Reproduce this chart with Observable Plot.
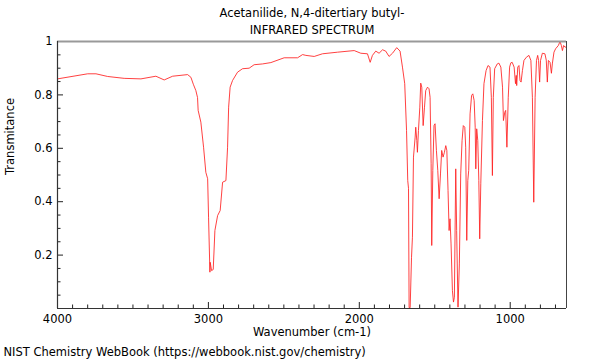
<!DOCTYPE html>
<html>
<head>
<meta charset="utf-8">
<script src="https://cdn.jsdelivr.net/npm/d3@7"></script>
<script src="https://cdn.jsdelivr.net/npm/@observablehq/plot@0.6"></script>
<style>
  body { margin: 0; background: #fff; }
</style>
</head>
<body>
<div id="chart"></div>
<script>
// Spectrum
const wavenumber = [
  4000, 3800, 3745, 3668, 3558, 3447, 3348, 3293, 3237, 3138, 3116, 3100, 3083, 3072, 3068,
  3050, 3032, 3017, 3005, 2999, 2990, 2988, 2979, 2968, 2957, 2939, 2922, 2906, 2884, 2873,
  2866, 2856, 2840, 2807, 2774, 2730, 2697, 2641, 2586, 2498, 2409, 2376, 2354, 2299, 2244,
  2144, 2034, 1990, 1946, 1928, 1913, 1891, 1869, 1846, 1825, 1803, 1780, 1752, 1730, 1714,
  1699, 1687, 1679, 1674, 1670, 1663, 1654, 1648, 1641, 1630, 1626, 1619, 1615, 1608, 1599,
  1593, 1586, 1577, 1568, 1560, 1548, 1538, 1531, 1524, 1520, 1513, 1505, 1498, 1489, 1480,
  1471, 1462, 1454, 1445, 1436, 1427, 1420, 1412, 1405, 1399, 1392, 1383, 1376, 1370, 1361,
  1355, 1346, 1337, 1328, 1319, 1311, 1301, 1295, 1288, 1281, 1275, 1266, 1256, 1248, 1239,
  1232, 1228, 1222, 1215, 1208, 1202, 1195, 1184, 1174, 1160, 1147, 1134, 1125, 1118, 1112,
  1103, 1086, 1075, 1062, 1051, 1045, 1036, 1030, 1022, 1013, 1004, 996, 987, 974, 965,
  960, 957, 950, 942, 935, 928, 919, 909, 893, 876, 863, 853, 844, 835, 826,
  818, 812, 805, 799, 787, 770, 761, 754, 747, 736, 727, 721, 710, 699, 681,
  670, 661, 654, 646, 637, 630
];
const transmittance = [
  0.860, 0.879, 0.879, 0.869, 0.862, 0.860, 0.870, 0.856, 0.870, 0.876, 0.866, 0.840, 0.816, 0.790, 0.742,
  0.698, 0.604, 0.510, 0.486, 0.342, 0.136, 0.173, 0.142, 0.146, 0.292, 0.348, 0.367, 0.473, 0.479, 0.604,
  0.754, 0.829, 0.854, 0.885, 0.898, 0.900, 0.913, 0.916, 0.921, 0.939, 0.939, 0.951, 0.948, 0.944, 0.954,
  0.960, 0.966, 0.956, 0.954, 0.922, 0.948, 0.964, 0.956, 0.969, 0.964, 0.944, 0.956, 0.977, 0.964, 0.904,
  0.842, 0.667, 0.479, 0.450, 0.003, 0.003, 0.192, 0.267, 0.567, 0.642, 0.679, 0.629, 0.585, 0.667, 0.754,
  0.844, 0.829, 0.685, 0.754, 0.816, 0.829, 0.823, 0.791, 0.542, 0.236, 0.517, 0.685, 0.692, 0.592, 0.517,
  0.411, 0.504, 0.592, 0.567, 0.585, 0.610, 0.592, 0.442, 0.292, 0.336, 0.242, 0.067, 0.024, 0.042, 0.523,
  0.292, 0.005, 0.167, 0.504, 0.629, 0.685, 0.679, 0.604, 0.255, 0.479, 0.517, 0.729, 0.798, 0.804, 0.779,
  0.679, 0.523, 0.673, 0.629, 0.479, 0.261, 0.467, 0.704, 0.842, 0.891, 0.910, 0.904, 0.791, 0.498, 0.791,
  0.898, 0.916, 0.919, 0.904, 0.829, 0.704, 0.735, 0.742, 0.604, 0.791, 0.904, 0.920, 0.922, 0.904, 0.842,
  0.873, 0.835, 0.904, 0.910, 0.854, 0.848, 0.891, 0.929, 0.941, 0.948, 0.929, 0.791, 0.398, 0.791, 0.929,
  0.948, 0.929, 0.848, 0.929, 0.956, 0.954, 0.930, 0.848, 0.929, 0.922, 0.881, 0.916, 0.960, 0.973, 0.985,
  1.000, 0.985, 0.966, 0.985, 0.979, 0.979
];

const xMajorTicks = [4000, 3000, 2000, 1000];
const xMinorTicks = [3900, 3800, 3700, 3600, 3500, 3400, 3300, 3200, 3100, 2900, 2800, 2700, 2600, 2500, 2400, 2300, 2200, 2100,
  1900, 1800, 1700, 1600, 1500, 1400, 1300, 1200, 1100, 900, 800, 700];
const yMajorTicks = [0.2, 0.4, 0.6, 0.8, 1];
const yMinorTicks = [0.05, 0.1, 0.15, 0.25, 0.3, 0.35, 0.45, 0.5, 0.55, 0.65, 0.7, 0.75, 0.85, 0.9, 0.95];

const titleLines = ["Acetanilide, N,4-ditertiary butyl-", "INFRARED SPECTRUM"];
const xLabel = "Wavenumber (cm-1)";
const yLabel = "Transmitance";
const caption = "NIST Chemistry WebBook (https://webbook.nist.gov/chemistry)";

const xMin = 4000, xMax = 627;
const data = wavenumber.map((w, i) => ({w, t: transmittance[i]}));

const noLabel = () => "";

const chart = Plot.plot({
  width: 600,
  height: 360,
  marginLeft: 57,
  marginRight: 34,
  marginTop: 41,
  marginBottom: 52,
  style: {fontFamily: "DejaVu Sans", fontSize: "11.5px", background: "#fff", color: "#000"},
  x: {domain: [xMin, xMax]},
  y: {domain: [0, 1]},
  marks: [
    Plot.line(data, {x: "w", y: "t", stroke: "#ff2020", strokeWidth: 1, strokeOpacity: 0.85, clip: true}),
    // inward ticks
    Plot.axisX({ticks: xMajorTicks, tickSize: -6, tickFormat: noLabel, label: null, stroke: "#222", strokeOpacity: 1}),
    Plot.axisX({ticks: xMinorTicks, tickSize: -3.5, tickFormat: noLabel, label: null, stroke: "#222", strokeOpacity: 1}),
    Plot.axisY({ticks: yMajorTicks, tickSize: -6, tickFormat: noLabel, label: null, stroke: "#222", strokeOpacity: 1}),
    Plot.axisY({ticks: yMinorTicks, tickSize: -3.5, tickFormat: noLabel, label: null, stroke: "#222", strokeOpacity: 1}),
    // frame
    Plot.ruleY([1], {stroke: "#999", strokeWidth: 2}),
    Plot.ruleX([xMax], {stroke: "#444", strokeWidth: 1}),
    Plot.ruleX([xMin], {stroke: "#333", strokeWidth: 1.2}),
    Plot.ruleY([0], {stroke: "#333", strokeWidth: 1.2}),
    // tick labels
    Plot.text(xMajorTicks, {x: d => d, y: 0, text: d => String(d), dy: 11, fill: "#000"}),
    Plot.text(yMajorTicks, {x: xMin, y: d => d, text: d => String(d), dx: -5, textAnchor: "end", fill: "#000"}),
    // labels
    Plot.text([xLabel], {frameAnchor: "bottom", dy: 27.5, fill: "#000"}),
    Plot.text([yLabel], {frameAnchor: "left", dx: -47, rotate: -90, fill: "#000"}),
    Plot.text([titleLines[0]], {frameAnchor: "top", dy: -33, fill: "#000"}),
    Plot.text([titleLines[1]], {frameAnchor: "top", dy: -16, fill: "#000"}),
    Plot.text([caption], {frameAnchor: "bottom-left", dx: -54, dy: 47, textAnchor: "start", fill: "#000"})
  ]
});
document.getElementById("chart").appendChild(chart);
</script>
</body>
</html>
